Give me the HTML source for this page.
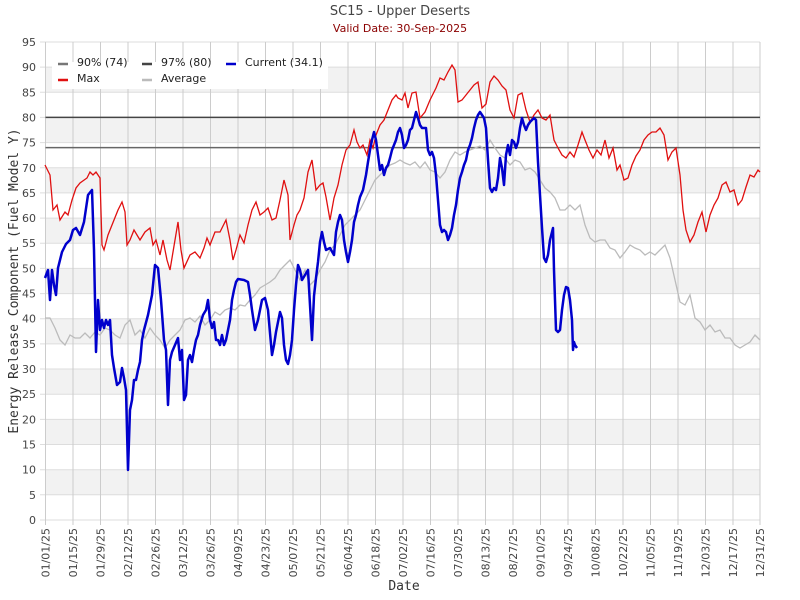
<!DOCTYPE html>
<html><head><style>body{margin:0;background:#fff}svg{display:block}</style></head><body>
<svg width="800" height="600" xmlns="http://www.w3.org/2000/svg" font-family="DejaVu Sans, Liberation Sans, sans-serif">
<rect width="800" height="600" fill="#fff"/>
<text x="400" y="15" text-anchor="middle" font-size="13" fill="#444">SC15 - Upper Deserts</text>
<text x="400" y="32" text-anchor="middle" font-size="11" fill="#8b0000">Valid Date: 30-Sep-2025</text>
<g fill="#f2f2f2">
<rect x="45.5" y="469.7" width="714.5" height="25.2"/>
<rect x="45.5" y="419.4" width="714.5" height="25.2"/>
<rect x="45.5" y="369" width="714.5" height="25.2"/>
<rect x="45.5" y="318.7" width="714.5" height="25.2"/>
<rect x="45.5" y="268.4" width="714.5" height="25.2"/>
<rect x="45.5" y="218.1" width="714.5" height="25.2"/>
<rect x="45.5" y="167.8" width="714.5" height="25.2"/>
<rect x="45.5" y="117.4" width="714.5" height="25.2"/>
<rect x="45.5" y="67.1" width="714.5" height="25.2"/>
</g>
<g stroke="#ddd" stroke-width="1">
<line x1="40" x2="760" y1="520" y2="520"/><line x1="40" x2="760" y1="494.8" y2="494.8"/><line x1="40" x2="760" y1="469.7" y2="469.7"/><line x1="40" x2="760" y1="444.5" y2="444.5"/><line x1="40" x2="760" y1="419.4" y2="419.4"/><line x1="40" x2="760" y1="394.2" y2="394.2"/><line x1="40" x2="760" y1="369" y2="369"/><line x1="40" x2="760" y1="343.9" y2="343.9"/><line x1="40" x2="760" y1="318.7" y2="318.7"/><line x1="40" x2="760" y1="293.6" y2="293.6"/><line x1="40" x2="760" y1="268.4" y2="268.4"/><line x1="40" x2="760" y1="243.2" y2="243.2"/><line x1="40" x2="760" y1="218.1" y2="218.1"/><line x1="40" x2="760" y1="192.9" y2="192.9"/><line x1="40" x2="760" y1="167.8" y2="167.8"/><line x1="40" x2="760" y1="142.6" y2="142.6"/><line x1="40" x2="760" y1="117.4" y2="117.4"/><line x1="40" x2="760" y1="92.3" y2="92.3"/><line x1="40" x2="760" y1="67.1" y2="67.1"/><line x1="40" x2="760" y1="42" y2="42"/>
</g>
<g stroke="#ccc" stroke-width="1">
<line x1="45.5" x2="45.5" y1="42" y2="525"/><line x1="73" x2="73" y1="42" y2="525"/><line x1="100.5" x2="100.5" y1="42" y2="525"/><line x1="128" x2="128" y1="42" y2="525"/><line x1="155.5" x2="155.5" y1="42" y2="525"/><line x1="183" x2="183" y1="42" y2="525"/><line x1="210.5" x2="210.5" y1="42" y2="525"/><line x1="238" x2="238" y1="42" y2="525"/><line x1="265.5" x2="265.5" y1="42" y2="525"/><line x1="293" x2="293" y1="42" y2="525"/><line x1="320.5" x2="320.5" y1="42" y2="525"/><line x1="348" x2="348" y1="42" y2="525"/><line x1="375.5" x2="375.5" y1="42" y2="525"/><line x1="403" x2="403" y1="42" y2="525"/><line x1="430.5" x2="430.5" y1="42" y2="525"/><line x1="458" x2="458" y1="42" y2="525"/><line x1="485.5" x2="485.5" y1="42" y2="525"/><line x1="513" x2="513" y1="42" y2="525"/><line x1="540.5" x2="540.5" y1="42" y2="525"/><line x1="568" x2="568" y1="42" y2="525"/><line x1="595.5" x2="595.5" y1="42" y2="525"/><line x1="623" x2="623" y1="42" y2="525"/><line x1="650.5" x2="650.5" y1="42" y2="525"/><line x1="678" x2="678" y1="42" y2="525"/><line x1="705.5" x2="705.5" y1="42" y2="525"/><line x1="733" x2="733" y1="42" y2="525"/><line x1="760" x2="760" y1="42" y2="525"/>
</g>
<g font-size="11" fill="#444" text-anchor="end">
<text x="36" y="524">0</text><text x="36" y="498.8">5</text><text x="36" y="473.7">10</text><text x="36" y="448.5">15</text><text x="36" y="423.4">20</text><text x="36" y="398.2">25</text><text x="36" y="373">30</text><text x="36" y="347.9">35</text><text x="36" y="322.7">40</text><text x="36" y="297.6">45</text><text x="36" y="272.4">50</text><text x="36" y="247.2">55</text><text x="36" y="222.1">60</text><text x="36" y="196.9">65</text><text x="36" y="171.8">70</text><text x="36" y="146.6">75</text><text x="36" y="121.4">80</text><text x="36" y="96.3">85</text><text x="36" y="71.1">90</text><text x="36" y="46">95</text>
</g>
<g font-size="11" fill="#444" text-anchor="end">
<text transform="translate(49.5,528) rotate(-90)">01/01/25</text>
<text transform="translate(77,528) rotate(-90)">01/15/25</text>
<text transform="translate(104.5,528) rotate(-90)">01/29/25</text>
<text transform="translate(132,528) rotate(-90)">02/12/25</text>
<text transform="translate(159.5,528) rotate(-90)">02/26/25</text>
<text transform="translate(187,528) rotate(-90)">03/12/25</text>
<text transform="translate(214.5,528) rotate(-90)">03/26/25</text>
<text transform="translate(242,528) rotate(-90)">04/09/25</text>
<text transform="translate(269.5,528) rotate(-90)">04/23/25</text>
<text transform="translate(297,528) rotate(-90)">05/07/25</text>
<text transform="translate(324.5,528) rotate(-90)">05/21/25</text>
<text transform="translate(352,528) rotate(-90)">06/04/25</text>
<text transform="translate(379.5,528) rotate(-90)">06/18/25</text>
<text transform="translate(407,528) rotate(-90)">07/02/25</text>
<text transform="translate(434.5,528) rotate(-90)">07/16/25</text>
<text transform="translate(462,528) rotate(-90)">07/30/25</text>
<text transform="translate(489.5,528) rotate(-90)">08/13/25</text>
<text transform="translate(517,528) rotate(-90)">08/27/25</text>
<text transform="translate(544.5,528) rotate(-90)">09/10/25</text>
<text transform="translate(572,528) rotate(-90)">09/24/25</text>
<text transform="translate(599.5,528) rotate(-90)">10/08/25</text>
<text transform="translate(627,528) rotate(-90)">10/22/25</text>
<text transform="translate(654.5,528) rotate(-90)">11/05/25</text>
<text transform="translate(682,528) rotate(-90)">11/19/25</text>
<text transform="translate(709.5,528) rotate(-90)">12/03/25</text>
<text transform="translate(737,528) rotate(-90)">12/17/25</text>
<text transform="translate(764,528) rotate(-90)">12/31/25</text>
</g>
<line x1="45.5" y1="42" x2="45.5" y2="520" stroke="#ccc"/>
<line x1="45.5" y1="147.6" x2="760" y2="147.6" stroke="#666" stroke-width="1.5"/>
<line x1="45.5" y1="117.4" x2="760" y2="117.4" stroke="#444" stroke-width="1.5"/>
<polyline fill="none" stroke="#bbb" stroke-width="1.3" points="45,318 50,318 55,328 60,340 65,345 70,335 75,338 80,338 85,333 90,338 95,332 100,335 105,328 110,330 115,335 120,338 125,325 130,320 135,335 140,330 145,338 150,328 155,335 160,340 165,348 170,340 175,335 180,330 185,320 190,318 195,322 200,316 205,325 210,320 215,312 220,315 225,310 230,308 235,310 240,305 245,306 250,300 255,295 260,288 265,285 270,282 275,278 280,270 285,265 290,260 295,270 300,280 305,270 310,285 315,280 320,270 325,262 330,250 335,245 340,235 345,225 350,220 355,215 360,210 365,200 370,190 375,180 380,175 385,170 390,165 395,163 400,160 405,163 410,165 415,162 420,168 425,162 430,170 435,172 440,178 445,172 450,160 455,152 460,155 465,152 470,150 475,148 480,146 485,150 490,140 495,148 500,155 505,158 510,165 515,160 520,162 525,170 530,168 535,172 540,180 545,188 550,192 555,198 560,210 565,210 570,205 575,210 580,205 585,225 590,238 595,242 600,240 605,240 610,248 615,250 620,258 625,252 630,245 635,248 640,250 645,255 650,252 655,255 660,250 665,245 670,258 675,280 680,302 685,305 690,295 695,318 700,322 705,330 710,325 715,332 720,330 725,338 730,338 735,345 740,348 745,345 750,342 755,335 760,340"/>
<polyline fill="none" stroke="#e01010" stroke-width="1.3" points="45,165 50,175 53,210 57,205 60,220 65,212 68,215 72,200 76,188 80,183 87,178 90,172 93,175 96,172 100,178 102,245 104,250 108,235 112,225 118,210 122,202 125,212 127,245 130,240 134,230 137,235 140,240 145,232 150,228 153,245 156,240 160,255 163,240 167,260 170,270 175,240 178,222 181,250 184,268 190,255 195,252 200,258 204,248 207,238 210,245 215,232 220,232 226,220 230,240 233,260 236,250 240,235 244,243 248,225 252,210 256,202 260,215 264,212 268,208 272,220 276,218 280,200 284,180 288,195 290,240 294,225 297,215 300,210 304,198 308,172 312,160 316,190 320,185 323,183 326,197 330,220 334,198 338,185 342,165 346,150 350,145 354,130 357,142 360,148 363,145 367,155 370,140 373,148 376,135 380,125 384,120 388,110 392,100 396,95 398,98 402,100 405,93 408,108 412,93 416,92 420,118 425,112 430,100 436,88 440,78 444,80 448,72 452,65 455,70 458,102 462,100 466,95 470,90 474,85 478,82 482,108 486,104 490,82 494,76 498,80 502,86 506,90 510,110 514,118 518,95 522,93 526,110 530,122 534,115 538,110 542,118 546,120 550,115 554,140 558,148 562,155 566,158 570,152 574,157 578,145 582,132 585,140 589,150 593,158 597,150 601,155 605,140 609,158 613,148 617,170 620,165 624,180 628,178 632,165 636,156 640,150 644,140 648,135 652,132 656,132 660,128 664,135 668,160 672,152 676,148 680,175 683,210 686,230 690,242 694,235 698,222 702,212 706,232 710,215 714,205 718,198 722,185 726,182 730,192 734,190 738,205 742,200 746,187 750,175 754,177 758,170 760,172"/>
<polyline fill="none" stroke="#0000cc" stroke-width="2.5" stroke-linejoin="round" points="45,278 48,270 50,300 52,270 54,285 56,295 58,268 62,252 66,244 70,240 73,230 76,228 80,235 84,222 88,195 92,190 94,250 96,352 98,300 100,330 102,320 104,328 106,320 108,325 110,320 112,355 114,368 117,385 120,382 122,368 124,378 126,390 128,470 130,410 132,400 134,380 136,380 138,370 140,362 142,340 144,330 148,315 152,295 155,265 158,268 161,300 164,340 166,350 168,405 170,360 172,352 175,345 178,338 180,360 182,350 184,400 186,395 188,360 190,355 192,362 194,350 196,340 198,335 200,325 203,315 206,310 208,300 210,320 212,328 214,322 216,340 218,340 220,345 222,335 224,345 226,340 228,330 230,320 232,300 234,290 236,282 238,279 244,280 248,282 250,295 252,310 255,330 258,320 262,300 265,298 268,310 270,333 272,355 274,345 276,332 278,322 280,312 282,318 284,345 286,360 288,364 290,355 292,340 294,310 296,285 298,265 300,270 302,280 305,275 308,270 312,340 314,296 316,278 318,262 320,242 322,232 324,242 326,250 330,248 334,255 336,232 338,222 340,215 342,220 344,240 346,252 348,262 350,252 352,240 354,222 356,215 358,205 360,197 363,190 366,175 368,162 370,150 372,140 374,132 376,140 378,155 380,170 382,165 384,175 386,168 388,165 390,158 392,150 394,145 396,140 398,132 400,128 402,135 404,148 406,145 408,140 410,130 412,128 414,120 416,112 418,118 420,125 422,128 424,128 426,128 428,150 430,155 432,152 434,158 436,175 438,200 440,225 442,232 444,230 446,232 448,240 450,235 452,228 454,215 456,205 458,190 460,178 462,172 464,165 466,160 468,150 470,145 472,138 474,128 476,120 478,115 480,112 484,118 486,128 488,160 490,188 492,192 494,188 496,190 498,178 500,158 502,168 504,185 506,155 508,145 510,155 512,140 514,142 516,148 518,142 520,128 522,118 524,125 526,130 528,125 530,122 532,120 534,118 536,120 538,162 540,195 542,228 544,258 546,262 548,255 550,240 552,232 553,228 554,270 556,330 558,332 560,330 562,310 564,295 566,287 568,288 570,300 572,320 573,350 574,342 575,345 577,348"/>
<rect x="52" y="62" width="276" height="27" fill="#fff"/>
<g font-size="11" fill="#222">
<line x1="58" y1="64" x2="68" y2="64" stroke="#777" stroke-width="2.5"/><text x="77" y="66">90% (74)</text>
<line x1="142" y1="64" x2="152" y2="64" stroke="#444" stroke-width="2.5"/><text x="161" y="66">97% (80)</text>
<line x1="226" y1="64" x2="236" y2="64" stroke="#0000cc" stroke-width="2.5"/><text x="245" y="66">Current (34.1)</text>
<line x1="58" y1="80" x2="68" y2="80" stroke="#e01010" stroke-width="2.5"/><text x="77" y="82">Max</text>
<line x1="142" y1="80" x2="152" y2="80" stroke="#bbb" stroke-width="2.5"/><text x="161" y="82">Average</text>
</g>
<text x="404" y="590" text-anchor="middle" font-size="13" fill="#333" font-family="DejaVu Sans Mono, Liberation Mono, monospace">Date</text>
<text transform="translate(18,281) rotate(-90)" text-anchor="middle" font-size="13" fill="#333" font-family="DejaVu Sans Mono, Liberation Mono, monospace">Energy Release Component (Fuel Model Y)</text>
</svg>
</body></html>
